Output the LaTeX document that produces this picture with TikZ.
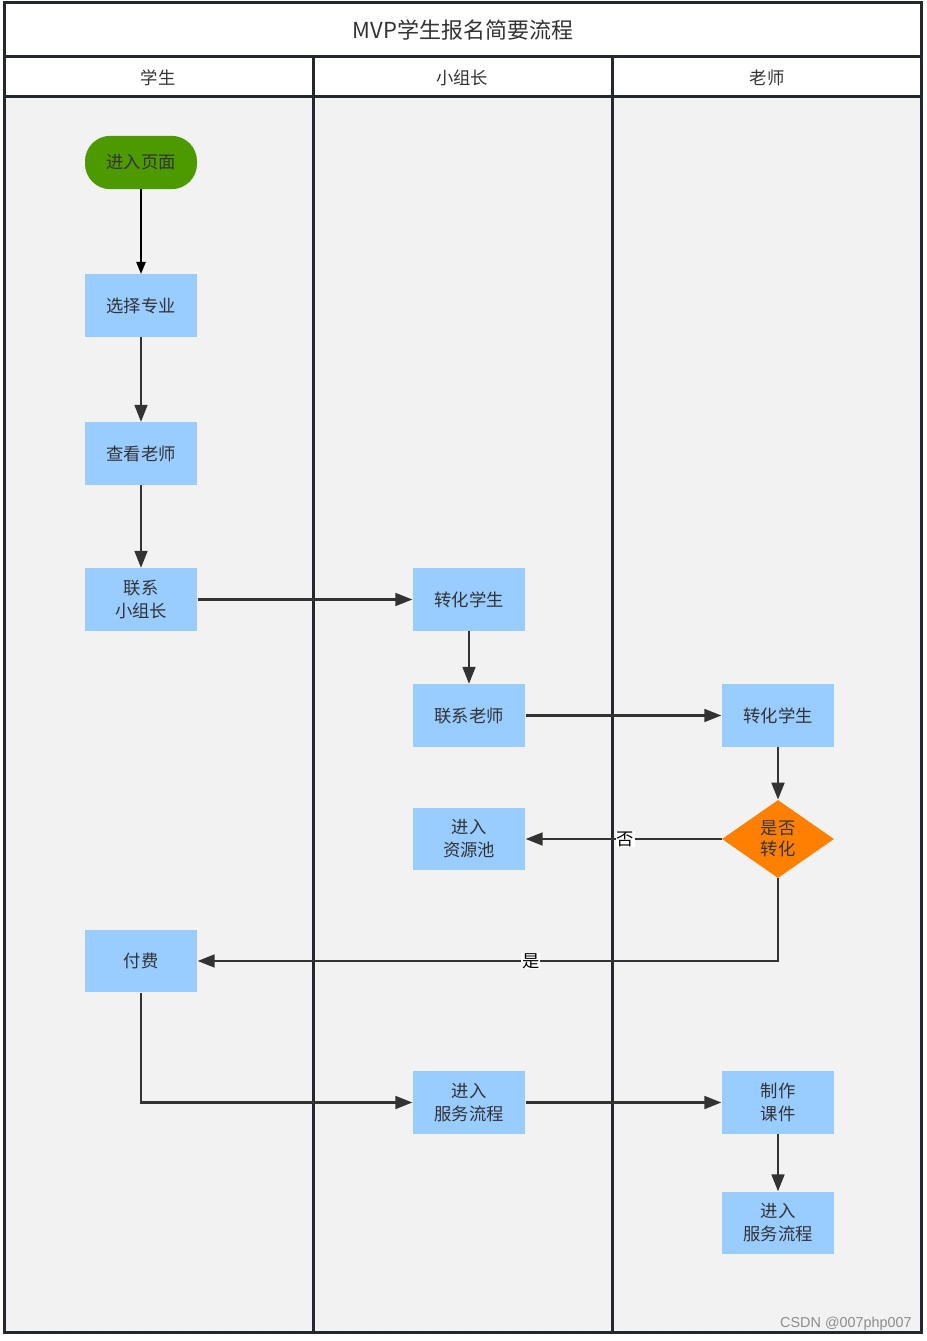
\documentclass[tikz,border=0pt]{standalone}
\usepackage{fontspec}
\setmainfont{Noto Sans CJK SC}
\newfontfamily\wmfont{Liberation Sans}
\usetikzlibrary{arrows.meta,shapes.geometric}
\definecolor{framec}{HTML}{23282E}
\definecolor{lanebg}{HTML}{F2F2F2}
\definecolor{boxblue}{HTML}{99CCFF}
\definecolor{startgreen}{HTML}{4D9900}
\definecolor{decorange}{HTML}{FF8000}
\definecolor{txt}{HTML}{333333}
\definecolor{linec}{HTML}{333333}
\begin{document}
\begin{tikzpicture}[x=0.75pt,y=-0.75pt,
  frame/.style={draw=framec,line width=2.25pt},
  box/.style={fill=boxblue,draw=none,text=txt,minimum width=84.5pt,minimum height=47pt,inner sep=0pt,align=center,font=\fontsize{13}{17.2}\selectfont},
  startbox/.style={fill=startgreen,draw=none,text=txt,minimum width=84pt,minimum height=40pt,rounded corners=19pt,inner sep=0pt,font=\fontsize{13}{17.2}\selectfont},
  decision/.style={diamond,fill=decorange,draw=none,text=txt,minimum width=84pt,minimum height=58.5pt,aspect=1.44,inner sep=0pt,align=center,font=\fontsize{13}{16}\selectfont},
  arr/.style={draw=linec,line width=2pt,-{Triangle[length=12.75pt,width=9.5pt]}},
  startarr/.style={draw=black,line width=1.2pt,-{Triangle[length=9pt,width=7pt]}},
  lbl/.style={fill=white,inner sep=0.5pt,text=black,font=\fontsize{13}{14}\selectfont},
  hdr/.style={text=txt,font=\fontsize{13}{16}\selectfont},
]
\useasboundingbox (0,0) rectangle (927,1341);
\fill[white] (0,0) rectangle (927,1341);
\fill[lanebg] (4,97) rectangle (921,1332);
\node[text=txt,font=\fontsize{16.5}{20}\selectfont] (title) at (463,30) {MVP学生报名简要流程};
\node[hdr] (h1) at (158,78) {学生};
\node[hdr] (h2) at (462,78) {小组长};
\node[hdr] (h3) at (767,78) {老师};
\draw[frame] (4,3) rectangle (921,1332);
\draw[frame] (4,57) -- (921,57);
\draw[frame] (4,97) -- (921,97);
\draw[frame] (313,57) -- (313,1332);
\draw[frame] (612,57) -- (612,1332);

\node[startbox] (start) at (141,162.5) {进入页面};
\node[box] (s1) at (141,305.5) {选择专业};
\node[box] (s2) at (141,453.5) {查看老师};
\node[box] (s3) at (141,599.5) {联系\\小组长};
\node[box] (g1) at (469,599.5) {转化学生};
\node[box] (g2) at (469,715.5) {联系老师};
\node[box] (t1) at (778,715.5) {转化学生};
\node[decision] (d) at (778,839) {是否\\转化};
\node[box] (g3) at (469,839) {进入\\资源池};
\node[box] (s4) at (141,961) {付费};
\node[box] (g4) at (469,1102.5) {进入\\服务流程};
\node[box] (t2) at (778,1102.5) {制作\\课件};
\node[box] (t3) at (778,1223) {进入\\服务流程};

\draw[startarr] (start) -- (s1);
\draw[arr] (s1) -- (s2);
\draw[arr] (s2) -- (s3);
\draw[arr] (s3) -- (g1);
\draw[arr] (g1) -- (g2);
\draw[arr] (g2) -- (t1);
\draw[arr] (t1) -- (d);
\draw[arr] (d) -- node[lbl,pos=0.49] {否} (g3);
\draw[arr] (d.south) |- node[lbl,pos=0.713] {是} (s4.east);
\draw[arr] (s4.south) |- (g4.west);
\draw[arr] (g4) -- (t2);
\draw[arr] (t2) -- (t3);

\node[anchor=east,text=black!45,font=\wmfont\fontsize{10.8}{12}\selectfont,inner sep=0pt] (wm) at (912,1324) {CSDN @007php007};
\end{tikzpicture}
\end{document}
